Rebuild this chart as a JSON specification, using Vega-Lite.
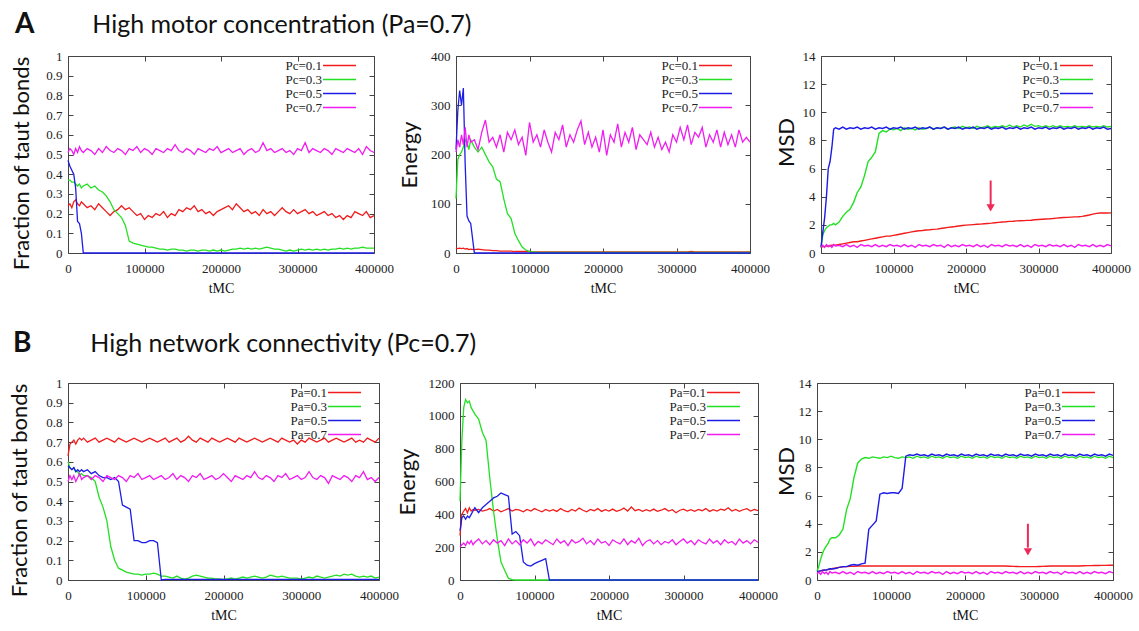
{
"$schema":"https://vega.github.io/schema/vega-lite/v6.json",
"background":"white",
"padding":{"left":8,"top":10,"right":5,"bottom":5},
"config":{
 "view":{"stroke":"#444","strokeWidth":1},
 "axis":{"domain":false,"grid":false,"ticks":true,"tickSize":-5,"tickColor":"#444","labelFont":"Liberation Serif","labelFontSize":13,"labelColor":"#222","labelPadding":11,"labelFlush":false,"titleFont":"Lato","titleFontWeight":"normal","titleColor":"#111"},
 "axisX":{"titleFont":"Liberation Serif","titleFontSize":14,"titlePadding":6,"labelPadding":14},
 "axisY":{"titleFontSize":22},
 "legend":{"orient":"none","symbolType":"M-3,0H3","symbolSize":121,"symbolStrokeWidth":1.5,"labelFont":"Liberation Serif","labelFontSize":13,"labelColor":"#222","labelAlign":"right","labelOffset":-24,"rowPadding":0,"padding":0},
 "title":{"font":"Lato","fontSize":28,"fontWeight":"bold","anchor":"start","color":"#111","frame":"group","offset":11}
},
"datasets":{
"a1":[
{"x":0,"a":0.24,"b":0.37,"c":0.47,"d":0.51},
{"x":2500,"a":0.25,"b":0.37,"c":0.44,"d":0.53},
{"x":5000,"a":0.23,"b":0.36,"c":0.42,"d":0.52},
{"x":7500,"a":0.26,"b":0.36,"c":0.40,"d":0.50},
{"x":10000,"a":0.27,"b":0.35,"c":0.33,"d":0.53},
{"x":12500,"a":0.25,"b":0.34,"c":0.16,"d":0.51},
{"x":15000,"a":0.24,"b":0.35,"c":0.15,"d":0.54},
{"x":17500,"a":0.26,"b":0.33,"c":0.10,"d":0.52},
{"x":20000,"a":0.25,"b":0.34,"c":0,"d":0.51},
{"x":25000,"a":0.23,"b":0.35,"c":0,"d":0.53},
{"x":30000,"a":0.24,"b":0.33,"c":0,"d":0.52},
{"x":35000,"a":0.22,"b":0.34,"c":0,"d":0.50},
{"x":40000,"a":0.25,"b":0.32,"c":0,"d":0.53},
{"x":45000,"a":0.23,"b":0.31,"c":0,"d":0.51},
{"x":50000,"a":0.21,"b":0.29,"c":0,"d":0.54},
{"x":55000,"a":0.19,"b":0.26,"c":0,"d":0.52},
{"x":60000,"a":0.21,"b":0.22,"c":0,"d":0.51},
{"x":65000,"a":0.22,"b":0.20,"c":0,"d":0.53},
{"x":70000,"a":0.24,"b":0.18,"c":0,"d":0.52},
{"x":75000,"a":0.22,"b":0.14,"c":0,"d":0.50},
{"x":80000,"a":0.23,"b":0.06,"c":0,"d":0.53},
{"x":85000,"a":0.21,"b":0.05,"c":0,"d":0.52},
{"x":90000,"a":0.19,"b":0.045,"c":0,"d":0.54},
{"x":95000,"a":0.20,"b":0.04,"c":0,"d":0.51},
{"x":100000,"a":0.17,"b":0.035,"c":0,"d":0.53},
{"x":105000,"a":0.19,"b":0.03,"c":0,"d":0.52},
{"x":110000,"a":0.18,"b":0.03,"c":0,"d":0.50},
{"x":115000,"a":0.20,"b":0.025,"c":0,"d":0.53},
{"x":120000,"a":0.19,"b":0.02,"c":0,"d":0.52},
{"x":125000,"a":0.21,"b":0.02,"c":0,"d":0.51},
{"x":130000,"a":0.18,"b":0.015,"c":0,"d":0.53},
{"x":135000,"a":0.20,"b":0.02,"c":0,"d":0.52},
{"x":140000,"a":0.19,"b":0.02,"c":0,"d":0.55},
{"x":145000,"a":0.22,"b":0.015,"c":0,"d":0.52},
{"x":150000,"a":0.21,"b":0.015,"c":0,"d":0.51},
{"x":155000,"a":0.23,"b":0.01,"c":0,"d":0.53},
{"x":160000,"a":0.22,"b":0.015,"c":0,"d":0.52},
{"x":165000,"a":0.24,"b":0.015,"c":0,"d":0.50},
{"x":170000,"a":0.21,"b":0.01,"c":0,"d":0.53},
{"x":175000,"a":0.22,"b":0.015,"c":0,"d":0.52},
{"x":180000,"a":0.20,"b":0.015,"c":0,"d":0.51},
{"x":185000,"a":0.21,"b":0.01,"c":0,"d":0.53},
{"x":190000,"a":0.19,"b":0.015,"c":0,"d":0.52},
{"x":195000,"a":0.21,"b":0.01,"c":0,"d":0.54},
{"x":200000,"a":0.22,"b":0.015,"c":0,"d":0.51},
{"x":205000,"a":0.23,"b":0.01,"c":0,"d":0.52},
{"x":210000,"a":0.24,"b":0.015,"c":0,"d":0.53},
{"x":215000,"a":0.22,"b":0.02,"c":0,"d":0.51},
{"x":220000,"a":0.25,"b":0.02,"c":0,"d":0.52},
{"x":225000,"a":0.23,"b":0.025,"c":0,"d":0.53},
{"x":230000,"a":0.21,"b":0.02,"c":0,"d":0.50},
{"x":235000,"a":0.22,"b":0.025,"c":0,"d":0.52},
{"x":240000,"a":0.20,"b":0.02,"c":0,"d":0.53},
{"x":245000,"a":0.21,"b":0.025,"c":0,"d":0.51},
{"x":250000,"a":0.19,"b":0.02,"c":0,"d":0.52},
{"x":255000,"a":0.22,"b":0.025,"c":0,"d":0.56},
{"x":260000,"a":0.20,"b":0.03,"c":0,"d":0.52},
{"x":265000,"a":0.21,"b":0.025,"c":0,"d":0.53},
{"x":270000,"a":0.19,"b":0.02,"c":0,"d":0.51},
{"x":275000,"a":0.21,"b":0.02,"c":0,"d":0.52},
{"x":280000,"a":0.23,"b":0.015,"c":0,"d":0.53},
{"x":285000,"a":0.21,"b":0.01,"c":0,"d":0.51},
{"x":290000,"a":0.20,"b":0.015,"c":0,"d":0.52},
{"x":295000,"a":0.22,"b":0.01,"c":0,"d":0.50},
{"x":300000,"a":0.20,"b":0.015,"c":0,"d":0.53},
{"x":305000,"a":0.21,"b":0.02,"c":0,"d":0.52},
{"x":310000,"a":0.22,"b":0.015,"c":0,"d":0.56},
{"x":315000,"a":0.20,"b":0.02,"c":0,"d":0.51},
{"x":320000,"a":0.21,"b":0.015,"c":0,"d":0.53},
{"x":325000,"a":0.19,"b":0.02,"c":0,"d":0.52},
{"x":330000,"a":0.20,"b":0.015,"c":0,"d":0.51},
{"x":335000,"a":0.21,"b":0.02,"c":0,"d":0.53},
{"x":340000,"a":0.19,"b":0.015,"c":0,"d":0.52},
{"x":345000,"a":0.20,"b":0.02,"c":0,"d":0.50},
{"x":350000,"a":0.18,"b":0.02,"c":0,"d":0.53},
{"x":355000,"a":0.19,"b":0.025,"c":0,"d":0.52},
{"x":360000,"a":0.17,"b":0.02,"c":0,"d":0.51},
{"x":365000,"a":0.19,"b":0.025,"c":0,"d":0.53},
{"x":370000,"a":0.18,"b":0.02,"c":0,"d":0.52},
{"x":375000,"a":0.21,"b":0.025,"c":0,"d":0.51},
{"x":380000,"a":0.20,"b":0.025,"c":0,"d":0.53},
{"x":385000,"a":0.19,"b":0.03,"c":0,"d":0.50},
{"x":390000,"a":0.21,"b":0.025,"c":0,"d":0.54},
{"x":395000,"a":0.18,"b":0.025,"c":0,"d":0.52},
{"x":400000,"a":0.19,"b":0.025,"c":0,"d":0.51}
],
"a2":[
{"x":0,"a":10,"b":110,"c":210,"d":205},
{"x":2500,"a":9,"b":190,"c":290,"d":230},
{"x":5000,"a":10,"b":200,"c":330,"d":215},
{"x":7500,"a":9,"b":205,"c":300,"d":240},
{"x":10000,"a":10,"b":215,"c":335,"d":220},
{"x":12500,"a":8,"b":230,"c":180,"d":255},
{"x":15000,"a":9,"b":225,"c":75,"d":215},
{"x":17500,"a":7,"b":210,"c":65,"d":240},
{"x":20000,"a":8,"b":230,"c":60,"d":225},
{"x":25000,"a":7,"b":215,"c":0,"d":230},
{"x":30000,"a":8,"b":205,"c":0,"d":210},
{"x":35000,"a":7,"b":215,"c":0,"d":245},
{"x":40000,"a":6,"b":200,"c":0,"d":270},
{"x":45000,"a":6,"b":185,"c":0,"d":225},
{"x":50000,"a":5,"b":175,"c":0,"d":235},
{"x":55000,"a":5,"b":150,"c":0,"d":215},
{"x":60000,"a":4,"b":145,"c":0,"d":240},
{"x":65000,"a":4,"b":110,"c":0,"d":205},
{"x":70000,"a":4,"b":80,"c":0,"d":245},
{"x":75000,"a":4,"b":70,"c":0,"d":230},
{"x":80000,"a":3,"b":40,"c":0,"d":250},
{"x":85000,"a":3,"b":25,"c":0,"d":220},
{"x":90000,"a":3,"b":12,"c":0,"d":235},
{"x":95000,"a":3,"b":6,"c":0,"d":198},
{"x":100000,"a":3,"b":3,"c":0,"d":265},
{"x":105000,"a":2,"b":2,"c":0,"d":225},
{"x":110000,"a":2,"b":1,"c":0,"d":240},
{"x":115000,"a":2,"b":1,"c":0,"d":215},
{"x":120000,"a":2,"b":1,"c":0,"d":250},
{"x":125000,"a":2,"b":1,"c":0,"d":225},
{"x":130000,"a":2,"b":1,"c":0,"d":205},
{"x":135000,"a":2,"b":1,"c":0,"d":245},
{"x":140000,"a":2,"b":1,"c":0,"d":230},
{"x":145000,"a":2,"b":1,"c":0,"d":260},
{"x":150000,"a":2,"b":1,"c":0,"d":215},
{"x":155000,"a":2,"b":1,"c":0,"d":240},
{"x":160000,"a":2,"b":1,"c":0,"d":225},
{"x":165000,"a":2,"b":1,"c":0,"d":250},
{"x":170000,"a":2,"b":1,"c":0,"d":268},
{"x":175000,"a":2,"b":1,"c":0,"d":220},
{"x":180000,"a":2,"b":1,"c":0,"d":245},
{"x":185000,"a":2,"b":1,"c":0,"d":215},
{"x":190000,"a":2,"b":1,"c":0,"d":235},
{"x":195000,"a":2,"b":1,"c":0,"d":205},
{"x":200000,"a":2,"b":1,"c":0,"d":250},
{"x":205000,"a":2,"b":1,"c":0,"d":198},
{"x":210000,"a":2,"b":1,"c":0,"d":240},
{"x":215000,"a":2,"b":1,"c":0,"d":225},
{"x":220000,"a":2,"b":1,"c":0,"d":262},
{"x":225000,"a":2,"b":1,"c":0,"d":215},
{"x":230000,"a":2,"b":1,"c":0,"d":245},
{"x":235000,"a":2,"b":1,"c":0,"d":225},
{"x":240000,"a":2,"b":1,"c":0,"d":255},
{"x":245000,"a":2,"b":1,"c":0,"d":210},
{"x":250000,"a":2,"b":1,"c":0,"d":240},
{"x":255000,"a":2,"b":1,"c":0,"d":230},
{"x":260000,"a":2,"b":1,"c":0,"d":220},
{"x":265000,"a":2,"b":1,"c":0,"d":245},
{"x":270000,"a":2,"b":1,"c":0,"d":215},
{"x":275000,"a":2,"b":1,"c":0,"d":235},
{"x":280000,"a":2,"b":1,"c":0,"d":210},
{"x":285000,"a":2,"b":1,"c":0,"d":225},
{"x":290000,"a":2,"b":1,"c":0,"d":205},
{"x":295000,"a":2,"b":1,"c":0,"d":240},
{"x":300000,"a":2,"b":1,"c":0,"d":225},
{"x":305000,"a":2,"b":1,"c":0,"d":255},
{"x":310000,"a":2,"b":1,"c":0,"d":230},
{"x":315000,"a":2,"b":1,"c":0,"d":260},
{"x":320000,"a":3,"b":1,"c":0,"d":220},
{"x":325000,"a":2,"b":1,"c":0,"d":245},
{"x":330000,"a":2,"b":1,"c":0,"d":235},
{"x":335000,"a":2,"b":1,"c":0,"d":255},
{"x":340000,"a":2,"b":1,"c":0,"d":215},
{"x":345000,"a":2,"b":1,"c":0,"d":240},
{"x":350000,"a":2,"b":1,"c":0,"d":225},
{"x":355000,"a":2,"b":1,"c":0,"d":250},
{"x":360000,"a":2,"b":1,"c":0,"d":215},
{"x":365000,"a":2,"b":1,"c":0,"d":245},
{"x":370000,"a":2,"b":1,"c":0,"d":220},
{"x":375000,"a":2,"b":1,"c":0,"d":240},
{"x":380000,"a":2,"b":1,"c":0,"d":215},
{"x":385000,"a":2,"b":1,"c":0,"d":250},
{"x":390000,"a":2,"b":1,"c":0,"d":225},
{"x":395000,"a":2,"b":1,"c":0,"d":235},
{"x":400000,"a":2,"b":1,"c":0,"d":225}
],
"a3":[
{"x":0,"a":0.4,"b":0.4,"c":0.4,"d":0.45},
{"x":2500,"a":0.45,"b":1.3,"c":1.5,"d":0.55},
{"x":5000,"a":0.45,"b":1.6,"c":2.5,"d":0.4},
{"x":7500,"a":0.5,"b":1.8,"c":4.0,"d":0.6},
{"x":10000,"a":0.5,"b":1.9,"c":6.0,"d":0.45},
{"x":12500,"a":0.5,"b":2.0,"c":6.5,"d":0.55},
{"x":15000,"a":0.55,"b":2.0,"c":7.5,"d":0.4},
{"x":17500,"a":0.55,"b":2.1,"c":8.8,"d":0.6},
{"x":20000,"a":0.55,"b":2.0,"c":8.9,"d":0.5},
{"x":25000,"a":0.6,"b":2.2,"c":8.8,"d":0.55},
{"x":30000,"a":0.65,"b":2.6,"c":8.95,"d":0.45},
{"x":35000,"a":0.7,"b":2.9,"c":8.8,"d":0.6},
{"x":40000,"a":0.75,"b":3.1,"c":8.9,"d":0.45},
{"x":45000,"a":0.8,"b":3.6,"c":8.85,"d":0.55},
{"x":50000,"a":0.8,"b":4.3,"c":8.95,"d":0.4},
{"x":55000,"a":0.85,"b":4.7,"c":8.8,"d":0.6},
{"x":60000,"a":0.9,"b":5.5,"c":8.9,"d":0.5},
{"x":65000,"a":0.95,"b":6.5,"c":8.85,"d":0.55},
{"x":70000,"a":1.0,"b":6.8,"c":8.95,"d":0.45},
{"x":75000,"a":1.05,"b":7.2,"c":8.8,"d":0.6},
{"x":80000,"a":1.1,"b":8.5,"c":8.9,"d":0.45},
{"x":85000,"a":1.15,"b":8.7,"c":8.85,"d":0.55},
{"x":90000,"a":1.2,"b":8.6,"c":8.95,"d":0.45},
{"x":95000,"a":1.2,"b":8.8,"c":8.8,"d":0.6},
{"x":100000,"a":1.25,"b":8.75,"c":8.9,"d":0.5},
{"x":105000,"a":1.3,"b":8.85,"c":8.85,"d":0.55},
{"x":110000,"a":1.35,"b":8.7,"c":8.95,"d":0.45},
{"x":115000,"a":1.4,"b":8.9,"c":8.8,"d":0.6},
{"x":120000,"a":1.45,"b":8.8,"c":8.9,"d":0.45},
{"x":125000,"a":1.5,"b":8.85,"c":8.85,"d":0.55},
{"x":130000,"a":1.55,"b":8.75,"c":8.95,"d":0.4},
{"x":135000,"a":1.58,"b":8.9,"c":8.8,"d":0.6},
{"x":140000,"a":1.6,"b":8.8,"c":8.9,"d":0.5},
{"x":145000,"a":1.63,"b":8.85,"c":8.85,"d":0.55},
{"x":150000,"a":1.65,"b":8.95,"c":8.95,"d":0.45},
{"x":155000,"a":1.68,"b":8.8,"c":8.8,"d":0.6},
{"x":160000,"a":1.7,"b":8.9,"c":8.9,"d":0.5},
{"x":165000,"a":1.74,"b":8.85,"c":8.85,"d":0.55},
{"x":170000,"a":1.78,"b":8.95,"c":8.95,"d":0.4},
{"x":175000,"a":1.82,"b":8.8,"c":8.8,"d":0.6},
{"x":180000,"a":1.85,"b":8.9,"c":8.9,"d":0.45},
{"x":185000,"a":1.88,"b":8.95,"c":8.85,"d":0.55},
{"x":190000,"a":1.92,"b":8.85,"c":8.95,"d":0.45},
{"x":195000,"a":1.95,"b":9.0,"c":8.8,"d":0.6},
{"x":200000,"a":1.98,"b":8.9,"c":8.9,"d":0.5},
{"x":205000,"a":2.0,"b":8.95,"c":8.85,"d":0.55},
{"x":210000,"a":2.02,"b":8.85,"c":8.95,"d":0.45},
{"x":215000,"a":2.04,"b":9.0,"c":8.8,"d":0.6},
{"x":220000,"a":2.05,"b":8.9,"c":8.9,"d":0.45},
{"x":225000,"a":2.08,"b":8.95,"c":8.85,"d":0.55},
{"x":230000,"a":2.1,"b":9.05,"c":8.95,"d":0.4},
{"x":235000,"a":2.12,"b":8.9,"c":8.8,"d":0.6},
{"x":240000,"a":2.15,"b":9.0,"c":8.9,"d":0.5},
{"x":245000,"a":2.18,"b":8.95,"c":8.85,"d":0.55},
{"x":250000,"a":2.2,"b":9.05,"c":8.95,"d":0.45},
{"x":255000,"a":2.22,"b":8.95,"c":8.8,"d":0.6},
{"x":260000,"a":2.25,"b":9.1,"c":8.9,"d":0.5},
{"x":265000,"a":2.26,"b":8.95,"c":8.85,"d":0.55},
{"x":270000,"a":2.28,"b":9.05,"c":8.95,"d":0.45},
{"x":275000,"a":2.29,"b":8.95,"c":8.8,"d":0.6},
{"x":280000,"a":2.3,"b":9.1,"c":8.9,"d":0.45},
{"x":285000,"a":2.32,"b":9.0,"c":8.85,"d":0.55},
{"x":290000,"a":2.33,"b":9.15,"c":8.95,"d":0.4},
{"x":295000,"a":2.36,"b":9.0,"c":8.8,"d":0.6},
{"x":300000,"a":2.38,"b":9.05,"c":8.9,"d":0.5},
{"x":305000,"a":2.4,"b":8.95,"c":8.85,"d":0.55},
{"x":310000,"a":2.42,"b":9.05,"c":8.95,"d":0.45},
{"x":315000,"a":2.43,"b":8.95,"c":8.8,"d":0.6},
{"x":320000,"a":2.45,"b":9.05,"c":8.9,"d":0.5},
{"x":325000,"a":2.48,"b":8.95,"c":8.85,"d":0.55},
{"x":330000,"a":2.5,"b":9.05,"c":8.95,"d":0.45},
{"x":335000,"a":2.52,"b":8.95,"c":8.8,"d":0.6},
{"x":340000,"a":2.53,"b":9.0,"c":8.9,"d":0.45},
{"x":345000,"a":2.55,"b":8.95,"c":8.85,"d":0.55},
{"x":350000,"a":2.57,"b":9.05,"c":8.95,"d":0.4},
{"x":355000,"a":2.58,"b":8.95,"c":8.8,"d":0.6},
{"x":360000,"a":2.6,"b":9.0,"c":8.9,"d":0.5},
{"x":365000,"a":2.65,"b":8.95,"c":8.85,"d":0.55},
{"x":370000,"a":2.7,"b":9.05,"c":8.95,"d":0.45},
{"x":375000,"a":2.76,"b":8.95,"c":8.8,"d":0.6},
{"x":380000,"a":2.82,"b":9.0,"c":8.9,"d":0.45},
{"x":385000,"a":2.84,"b":8.95,"c":8.85,"d":0.55},
{"x":390000,"a":2.85,"b":9.05,"c":8.95,"d":0.45},
{"x":395000,"a":2.84,"b":8.95,"c":8.8,"d":0.6},
{"x":400000,"a":2.85,"b":9.0,"c":8.85,"d":0.5}
],
"b1":[
{"x":0,"a":0.63,"b":0.6,"c":0.58,"d":0.5},
{"x":2500,"a":0.69,"b":0.57,"c":0.57,"d":0.53},
{"x":5000,"a":0.7,"b":0.56,"c":0.56,"d":0.51},
{"x":7500,"a":0.71,"b":0.57,"c":0.57,"d":0.53},
{"x":10000,"a":0.69,"b":0.55,"c":0.55,"d":0.5},
{"x":12500,"a":0.71,"b":0.55,"c":0.56,"d":0.52},
{"x":15000,"a":0.72,"b":0.53,"c":0.55,"d":0.54},
{"x":17500,"a":0.71,"b":0.54,"c":0.56,"d":0.51},
{"x":20000,"a":0.72,"b":0.53,"c":0.55,"d":0.52},
{"x":25000,"a":0.70,"b":0.53,"c":0.56,"d":0.53},
{"x":30000,"a":0.71,"b":0.52,"c":0.54,"d":0.51},
{"x":35000,"a":0.72,"b":0.50,"c":0.55,"d":0.53},
{"x":40000,"a":0.70,"b":0.42,"c":0.53,"d":0.52},
{"x":45000,"a":0.71,"b":0.37,"c":0.52,"d":0.50},
{"x":50000,"a":0.72,"b":0.30,"c":0.52,"d":0.53},
{"x":55000,"a":0.71,"b":0.17,"c":0.51,"d":0.52},
{"x":60000,"a":0.70,"b":0.10,"c":0.52,"d":0.51},
{"x":65000,"a":0.72,"b":0.06,"c":0.50,"d":0.53},
{"x":70000,"a":0.71,"b":0.05,"c":0.38,"d":0.52},
{"x":75000,"a":0.70,"b":0.04,"c":0.37,"d":0.50},
{"x":80000,"a":0.71,"b":0.035,"c":0.36,"d":0.53},
{"x":85000,"a":0.72,"b":0.03,"c":0.20,"d":0.52},
{"x":90000,"a":0.71,"b":0.03,"c":0.20,"d":0.54},
{"x":95000,"a":0.70,"b":0.025,"c":0.19,"d":0.51},
{"x":100000,"a":0.71,"b":0.03,"c":0.19,"d":0.52},
{"x":105000,"a":0.72,"b":0.03,"c":0.20,"d":0.53},
{"x":110000,"a":0.71,"b":0.035,"c":0.20,"d":0.51},
{"x":115000,"a":0.70,"b":0.03,"c":0.19,"d":0.52},
{"x":120000,"a":0.71,"b":0.02,"c":0.0,"d":0.53},
{"x":125000,"a":0.72,"b":0.02,"c":0.003,"d":0.51},
{"x":130000,"a":0.70,"b":0.015,"c":0.003,"d":0.52},
{"x":135000,"a":0.71,"b":0.01,"c":0.003,"d":0.54},
{"x":140000,"a":0.72,"b":0.02,"c":0.003,"d":0.51},
{"x":145000,"a":0.70,"b":0.01,"c":0.003,"d":0.53},
{"x":150000,"a":0.71,"b":0.005,"c":0.003,"d":0.52},
{"x":155000,"a":0.73,"b":0.01,"c":0.003,"d":0.50},
{"x":160000,"a":0.71,"b":0.02,"c":0.003,"d":0.53},
{"x":165000,"a":0.70,"b":0.025,"c":0.003,"d":0.52},
{"x":170000,"a":0.72,"b":0.02,"c":0.003,"d":0.54},
{"x":175000,"a":0.71,"b":0.015,"c":0.003,"d":0.51},
{"x":180000,"a":0.70,"b":0.01,"c":0.003,"d":0.52},
{"x":185000,"a":0.72,"b":0.01,"c":0.003,"d":0.53},
{"x":190000,"a":0.71,"b":0.005,"c":0.003,"d":0.51},
{"x":195000,"a":0.70,"b":0.005,"c":0.003,"d":0.52},
{"x":200000,"a":0.71,"b":0.003,"c":0.003,"d":0.54},
{"x":205000,"a":0.72,"b":0.005,"c":0.003,"d":0.52},
{"x":210000,"a":0.71,"b":0.01,"c":0.003,"d":0.50},
{"x":215000,"a":0.70,"b":0.005,"c":0.003,"d":0.53},
{"x":220000,"a":0.72,"b":0.01,"c":0.003,"d":0.52},
{"x":225000,"a":0.71,"b":0.015,"c":0.003,"d":0.51},
{"x":230000,"a":0.70,"b":0.01,"c":0.003,"d":0.53},
{"x":235000,"a":0.71,"b":0.015,"c":0.003,"d":0.52},
{"x":240000,"a":0.72,"b":0.02,"c":0.003,"d":0.55},
{"x":245000,"a":0.71,"b":0.015,"c":0.003,"d":0.52},
{"x":250000,"a":0.70,"b":0.01,"c":0.003,"d":0.51},
{"x":255000,"a":0.71,"b":0.015,"c":0.003,"d":0.53},
{"x":260000,"a":0.72,"b":0.025,"c":0.003,"d":0.52},
{"x":265000,"a":0.71,"b":0.02,"c":0.003,"d":0.50},
{"x":270000,"a":0.70,"b":0.015,"c":0.003,"d":0.53},
{"x":275000,"a":0.72,"b":0.02,"c":0.003,"d":0.52},
{"x":280000,"a":0.71,"b":0.015,"c":0.003,"d":0.54},
{"x":285000,"a":0.70,"b":0.01,"c":0.003,"d":0.51},
{"x":290000,"a":0.71,"b":0.01,"c":0.003,"d":0.52},
{"x":295000,"a":0.69,"b":0.01,"c":0.003,"d":0.53},
{"x":300000,"a":0.71,"b":0.005,"c":0.003,"d":0.51},
{"x":305000,"a":0.70,"b":0.01,"c":0.003,"d":0.52},
{"x":310000,"a":0.72,"b":0.015,"c":0.003,"d":0.55},
{"x":315000,"a":0.71,"b":0.01,"c":0.003,"d":0.52},
{"x":320000,"a":0.70,"b":0.02,"c":0.003,"d":0.51},
{"x":325000,"a":0.71,"b":0.015,"c":0.003,"d":0.53},
{"x":330000,"a":0.72,"b":0.01,"c":0.003,"d":0.52},
{"x":335000,"a":0.70,"b":0.015,"c":0.003,"d":0.49},
{"x":340000,"a":0.71,"b":0.02,"c":0.003,"d":0.53},
{"x":345000,"a":0.72,"b":0.025,"c":0.003,"d":0.52},
{"x":350000,"a":0.71,"b":0.02,"c":0.003,"d":0.51},
{"x":355000,"a":0.70,"b":0.03,"c":0.003,"d":0.53},
{"x":360000,"a":0.71,"b":0.025,"c":0.003,"d":0.52},
{"x":365000,"a":0.72,"b":0.03,"c":0.003,"d":0.50},
{"x":370000,"a":0.70,"b":0.02,"c":0.003,"d":0.53},
{"x":375000,"a":0.71,"b":0.015,"c":0.003,"d":0.52},
{"x":380000,"a":0.70,"b":0.02,"c":0.003,"d":0.55},
{"x":385000,"a":0.72,"b":0.015,"c":0.003,"d":0.51},
{"x":390000,"a":0.71,"b":0.02,"c":0.003,"d":0.52},
{"x":395000,"a":0.70,"b":0.01,"c":0.003,"d":0.50},
{"x":400000,"a":0.72,"b":0.015,"c":0.003,"d":0.52}
],
"b2":[
{"x":0,"a":270,"b":480,"c":300,"d":200},
{"x":2500,"a":400,"b":850,"c":380,"d":215},
{"x":5000,"a":420,"b":1050,"c":390,"d":225},
{"x":7500,"a":435,"b":1100,"c":370,"d":210},
{"x":10000,"a":410,"b":1080,"c":390,"d":235},
{"x":12500,"a":440,"b":1090,"c":380,"d":220},
{"x":15000,"a":420,"b":1050,"c":400,"d":240},
{"x":17500,"a":430,"b":1030,"c":420,"d":215},
{"x":20000,"a":425,"b":1010,"c":440,"d":230},
{"x":25000,"a":430,"b":980,"c":410,"d":250},
{"x":30000,"a":420,"b":900,"c":440,"d":220},
{"x":35000,"a":425,"b":850,"c":460,"d":240},
{"x":40000,"a":435,"b":620,"c":480,"d":215},
{"x":45000,"a":420,"b":420,"c":500,"d":245},
{"x":50000,"a":430,"b":250,"c":510,"d":225},
{"x":55000,"a":415,"b":110,"c":530,"d":240},
{"x":60000,"a":425,"b":60,"c":520,"d":210},
{"x":65000,"a":435,"b":10,"c":510,"d":250},
{"x":70000,"a":420,"b":2,"c":280,"d":220},
{"x":75000,"a":430,"b":0,"c":295,"d":240},
{"x":80000,"a":425,"b":0,"c":270,"d":215},
{"x":85000,"a":415,"b":0,"c":110,"d":245},
{"x":90000,"a":430,"b":0,"c":90,"d":225},
{"x":95000,"a":420,"b":0,"c":85,"d":250},
{"x":100000,"a":435,"b":0,"c":100,"d":210},
{"x":105000,"a":425,"b":0,"c":110,"d":235},
{"x":110000,"a":415,"b":0,"c":120,"d":220},
{"x":115000,"a":430,"b":0,"c":130,"d":245},
{"x":120000,"a":420,"b":0,"c":0,"d":230},
{"x":125000,"a":428,"b":0,"c":0,"d":215},
{"x":130000,"a":418,"b":0,"c":0,"d":250},
{"x":135000,"a":435,"b":0,"c":0,"d":225},
{"x":140000,"a":422,"b":0,"c":0,"d":240},
{"x":145000,"a":415,"b":0,"c":0,"d":210},
{"x":150000,"a":430,"b":0,"c":0,"d":245},
{"x":155000,"a":420,"b":0,"c":0,"d":225},
{"x":160000,"a":438,"b":0,"c":0,"d":235},
{"x":165000,"a":425,"b":0,"c":0,"d":255},
{"x":170000,"a":415,"b":0,"c":0,"d":220},
{"x":175000,"a":430,"b":0,"c":0,"d":240},
{"x":180000,"a":422,"b":0,"c":0,"d":215},
{"x":185000,"a":435,"b":0,"c":0,"d":250},
{"x":190000,"a":418,"b":0,"c":0,"d":225},
{"x":195000,"a":428,"b":0,"c":0,"d":235},
{"x":200000,"a":420,"b":0,"c":0,"d":210},
{"x":205000,"a":432,"b":0,"c":0,"d":245},
{"x":210000,"a":418,"b":0,"c":0,"d":230},
{"x":215000,"a":425,"b":0,"c":0,"d":220},
{"x":220000,"a":438,"b":0,"c":0,"d":250},
{"x":225000,"a":420,"b":0,"c":0,"d":215},
{"x":230000,"a":445,"b":0,"c":0,"d":240},
{"x":235000,"a":422,"b":0,"c":0,"d":225},
{"x":240000,"a":430,"b":0,"c":0,"d":255},
{"x":245000,"a":418,"b":0,"c":0,"d":210},
{"x":250000,"a":428,"b":0,"c":0,"d":235},
{"x":255000,"a":420,"b":0,"c":0,"d":245},
{"x":260000,"a":432,"b":0,"c":0,"d":220},
{"x":265000,"a":418,"b":0,"c":0,"d":240},
{"x":270000,"a":425,"b":0,"c":0,"d":215},
{"x":275000,"a":435,"b":0,"c":0,"d":235},
{"x":280000,"a":420,"b":0,"c":0,"d":225},
{"x":285000,"a":428,"b":0,"c":0,"d":245},
{"x":290000,"a":410,"b":0,"c":0,"d":215},
{"x":295000,"a":425,"b":0,"c":0,"d":235},
{"x":300000,"a":432,"b":0,"c":0,"d":250},
{"x":305000,"a":420,"b":0,"c":0,"d":225},
{"x":310000,"a":428,"b":0,"c":0,"d":240},
{"x":315000,"a":418,"b":0,"c":0,"d":215},
{"x":320000,"a":430,"b":0,"c":0,"d":245},
{"x":325000,"a":422,"b":0,"c":0,"d":230},
{"x":330000,"a":435,"b":0,"c":0,"d":220},
{"x":335000,"a":418,"b":0,"c":0,"d":250},
{"x":340000,"a":428,"b":0,"c":0,"d":225},
{"x":345000,"a":420,"b":0,"c":0,"d":240},
{"x":350000,"a":432,"b":0,"c":0,"d":215},
{"x":355000,"a":425,"b":0,"c":0,"d":245},
{"x":360000,"a":440,"b":0,"c":0,"d":225},
{"x":365000,"a":420,"b":0,"c":0,"d":235},
{"x":370000,"a":430,"b":0,"c":0,"d":215},
{"x":375000,"a":418,"b":0,"c":0,"d":250},
{"x":380000,"a":428,"b":0,"c":0,"d":225},
{"x":385000,"a":435,"b":0,"c":0,"d":240},
{"x":390000,"a":420,"b":0,"c":0,"d":220},
{"x":395000,"a":430,"b":0,"c":0,"d":245},
{"x":400000,"a":422,"b":0,"c":0,"d":230}
],
"b3":[
{"x":0,"a":0.6,"b":0.6,"c":0.6,"d":0.45},
{"x":2500,"a":0.62,"b":1.0,"c":0.62,"d":0.55},
{"x":5000,"a":0.65,"b":1.5,"c":0.65,"d":0.4},
{"x":7500,"a":0.68,"b":1.9,"c":0.7,"d":0.6},
{"x":10000,"a":0.7,"b":2.2,"c":0.72,"d":0.45},
{"x":12500,"a":0.72,"b":2.4,"c":0.7,"d":0.55},
{"x":15000,"a":0.75,"b":2.6,"c":0.75,"d":0.4},
{"x":17500,"a":0.78,"b":2.9,"c":0.8,"d":0.6},
{"x":20000,"a":0.8,"b":3.0,"c":0.78,"d":0.5},
{"x":25000,"a":0.85,"b":3.0,"c":0.82,"d":0.55},
{"x":30000,"a":0.9,"b":3.2,"c":0.9,"d":0.45},
{"x":35000,"a":0.93,"b":3.6,"c":0.95,"d":0.6},
{"x":40000,"a":0.95,"b":5.0,"c":0.95,"d":0.45},
{"x":45000,"a":0.97,"b":5.8,"c":1.05,"d":0.55},
{"x":50000,"a":0.98,"b":7.3,"c":1.1,"d":0.4},
{"x":55000,"a":1.0,"b":8.3,"c":1.05,"d":0.6},
{"x":60000,"a":1.0,"b":8.6,"c":1.15,"d":0.5},
{"x":65000,"a":1.0,"b":8.7,"c":1.2,"d":0.55},
{"x":70000,"a":1.0,"b":8.65,"c":3.6,"d":0.45},
{"x":75000,"a":1.0,"b":8.75,"c":3.9,"d":0.6},
{"x":80000,"a":1.0,"b":8.7,"c":4.2,"d":0.45},
{"x":85000,"a":1.0,"b":8.65,"c":6.1,"d":0.55},
{"x":90000,"a":1.0,"b":8.75,"c":6.2,"d":0.45},
{"x":95000,"a":1.0,"b":8.7,"c":6.15,"d":0.6},
{"x":100000,"a":1.0,"b":8.8,"c":6.2,"d":0.5},
{"x":105000,"a":1.0,"b":8.7,"c":6.2,"d":0.55},
{"x":110000,"a":1.0,"b":8.65,"c":6.15,"d":0.45},
{"x":115000,"a":1.0,"b":8.75,"c":6.5,"d":0.6},
{"x":120000,"a":1.0,"b":8.7,"c":8.8,"d":0.45},
{"x":125000,"a":1.0,"b":8.75,"c":8.9,"d":0.55},
{"x":130000,"a":1.0,"b":8.65,"c":8.85,"d":0.4},
{"x":135000,"a":1.0,"b":8.8,"c":8.95,"d":0.6},
{"x":140000,"a":1.0,"b":8.7,"c":8.85,"d":0.5},
{"x":145000,"a":1.0,"b":8.75,"c":8.9,"d":0.55},
{"x":150000,"a":1.0,"b":8.65,"c":8.8,"d":0.45},
{"x":155000,"a":1.0,"b":8.8,"c":8.95,"d":0.6},
{"x":160000,"a":1.0,"b":8.7,"c":8.85,"d":0.5},
{"x":165000,"a":1.0,"b":8.75,"c":8.9,"d":0.55},
{"x":170000,"a":1.0,"b":8.65,"c":8.8,"d":0.4},
{"x":175000,"a":1.0,"b":8.8,"c":8.95,"d":0.6},
{"x":180000,"a":1.0,"b":8.7,"c":8.85,"d":0.45},
{"x":185000,"a":1.0,"b":8.75,"c":8.9,"d":0.55},
{"x":190000,"a":1.0,"b":8.65,"c":8.8,"d":0.45},
{"x":195000,"a":1.0,"b":8.8,"c":8.95,"d":0.6},
{"x":200000,"a":1.0,"b":8.7,"c":8.85,"d":0.5},
{"x":205000,"a":1.0,"b":8.75,"c":8.9,"d":0.55},
{"x":210000,"a":1.0,"b":8.65,"c":8.8,"d":0.45},
{"x":215000,"a":1.0,"b":8.8,"c":8.95,"d":0.6},
{"x":220000,"a":1.0,"b":8.7,"c":8.85,"d":0.45},
{"x":225000,"a":1.0,"b":8.75,"c":8.9,"d":0.55},
{"x":230000,"a":1.0,"b":8.65,"c":8.8,"d":0.4},
{"x":235000,"a":1.0,"b":8.8,"c":8.95,"d":0.6},
{"x":240000,"a":1.0,"b":8.7,"c":8.85,"d":0.5},
{"x":245000,"a":1.0,"b":8.75,"c":8.9,"d":0.55},
{"x":250000,"a":1.0,"b":8.65,"c":8.8,"d":0.45},
{"x":255000,"a":0.99,"b":8.8,"c":8.95,"d":0.6},
{"x":260000,"a":0.98,"b":8.7,"c":8.85,"d":0.5},
{"x":265000,"a":0.97,"b":8.75,"c":8.9,"d":0.55},
{"x":270000,"a":0.96,"b":8.65,"c":8.8,"d":0.45},
{"x":275000,"a":0.95,"b":8.8,"c":8.95,"d":0.6},
{"x":280000,"a":0.95,"b":8.7,"c":8.85,"d":0.45},
{"x":285000,"a":0.95,"b":8.75,"c":8.9,"d":0.55},
{"x":290000,"a":0.95,"b":8.65,"c":8.8,"d":0.45},
{"x":295000,"a":0.95,"b":8.8,"c":8.95,"d":0.6},
{"x":300000,"a":0.96,"b":8.7,"c":8.85,"d":0.5},
{"x":305000,"a":0.97,"b":8.75,"c":8.9,"d":0.55},
{"x":310000,"a":0.98,"b":8.65,"c":8.8,"d":0.45},
{"x":315000,"a":0.99,"b":8.8,"c":8.95,"d":0.6},
{"x":320000,"a":1.0,"b":8.7,"c":8.85,"d":0.5},
{"x":325000,"a":1.0,"b":8.75,"c":8.9,"d":0.55},
{"x":330000,"a":1.0,"b":8.65,"c":8.8,"d":0.4},
{"x":335000,"a":1.0,"b":8.8,"c":8.95,"d":0.6},
{"x":340000,"a":1.0,"b":8.7,"c":8.85,"d":0.5},
{"x":345000,"a":1.0,"b":8.75,"c":8.9,"d":0.55},
{"x":350000,"a":1.0,"b":8.65,"c":8.8,"d":0.45},
{"x":355000,"a":1.0,"b":8.8,"c":8.95,"d":0.6},
{"x":360000,"a":1.01,"b":8.7,"c":8.85,"d":0.45},
{"x":365000,"a":1.02,"b":8.75,"c":8.9,"d":0.55},
{"x":370000,"a":1.02,"b":8.65,"c":8.8,"d":0.45},
{"x":375000,"a":1.03,"b":8.8,"c":8.95,"d":0.6},
{"x":380000,"a":1.03,"b":8.7,"c":8.85,"d":0.5},
{"x":385000,"a":1.04,"b":8.75,"c":8.9,"d":0.55},
{"x":390000,"a":1.04,"b":8.65,"c":8.8,"d":0.45},
{"x":395000,"a":1.05,"b":8.8,"c":8.95,"d":0.6},
{"x":400000,"a":1.05,"b":8.7,"c":8.85,"d":0.5}
]
},
"vconcat":[
{
 "title":{"text":"High motor concentration (Pa=0.7)","fontSize":25,"fontWeight":"normal","frame":"bounds","dx":82,"dy":27,"offset":0},
 "spacing":4,
 "resolve":{"scale":{"color":"independent"},"legend":{"color":"independent"}},
 "hconcat":[
  {"width":306,"height":197,"title":{"text":"A","dx":-53},"data":{"name":"a1"},
   "layer":[
    {"transform":[{"fold":["a","b","c","d"],"as":["s","y"]}],"mark":{"type":"line","strokeWidth":1.3},
     "encoding":{
      "x":{"field":"x","type":"quantitative","scale":{"domain":[0,400000],"nice":false},"axis":{"values":[0,100000,200000,300000,400000],"format":"d","title":"tMC"}},
      "y":{"field":"y","type":"quantitative","scale":{"domain":[0,1],"nice":false},"axis":{"values":[0,0.1,0.2,0.3,0.4,0.5,0.6,0.7,0.8,0.9,1],"format":"~g","title":"Fraction of taut bonds","titlePadding":12,"titleY":107}},
      "color":{"field":"s","type":"nominal","scale":{"domain":["a","b","c","d"],"range":["#f21c1c","#22e022","#1c1ce6","#f01cf0"]},"legend":{"title":null,"legendX":265,"legendY":3,"labelExpr":"datum.label=='a'?'Pc=0.1':datum.label=='b'?'Pc=0.3':datum.label=='c'?'Pc=0.5':'Pc=0.7'"}}}},
    {"transform":[{"fold":["a","b","c","d"],"as":["s","y"]}],"mark":{"type":"point","opacity":0},
     "encoding":{
      "x":{"field":"x","type":"quantitative","scale":{"domain":[0,400000],"nice":false},"axis":{"orient":"top","labels":false,"title":null,"values":[0,100000,200000,300000,400000]}},
      "y":{"field":"y","type":"quantitative","scale":{"domain":[0,1],"nice":false},"axis":{"orient":"right","labels":false,"title":null,"values":[0,0.1,0.2,0.3,0.4,0.5,0.6,0.7,0.8,0.9,1]}}}}
   ],
   "resolve":{"axis":{"x":"independent","y":"independent"}}},
  {"width":294,"height":197,"title":{"text":" "},"data":{"name":"a2"},
   "layer":[
    {"transform":[{"fold":["a","b","c","d"],"as":["s","y"]}],"mark":{"type":"line","strokeWidth":1.3},
     "encoding":{
      "x":{"field":"x","type":"quantitative","scale":{"domain":[0,400000],"nice":false},"axis":{"values":[0,100000,200000,300000,400000],"format":"d","title":"tMC"}},
      "y":{"field":"y","type":"quantitative","scale":{"domain":[0,400],"nice":false},"axis":{"values":[0,100,200,300,400],"format":"d","title":"Energy","titlePadding":9}},
      "color":{"field":"s","type":"nominal","scale":{"domain":["a","b","c","d"],"range":["#f21c1c","#22e022","#1c1ce6","#f01cf0"]},"legend":{"title":null,"legendX":253,"legendY":3,"labelExpr":"datum.label=='a'?'Pc=0.1':datum.label=='b'?'Pc=0.3':datum.label=='c'?'Pc=0.5':'Pc=0.7'"}}}},
    {"transform":[{"fold":["a","b","c","d"],"as":["s","y"]}],"mark":{"type":"point","opacity":0},
     "encoding":{
      "x":{"field":"x","type":"quantitative","scale":{"domain":[0,400000],"nice":false},"axis":{"orient":"top","labels":false,"title":null,"values":[0,100000,200000,300000,400000]}},
      "y":{"field":"y","type":"quantitative","scale":{"domain":[0,400],"nice":false},"axis":{"orient":"right","labels":false,"title":null,"values":[0,100,200,300,400]}}}}
   ],
   "resolve":{"axis":{"x":"independent","y":"independent"}}},
  {"width":290,"height":197,"title":{"text":" "},"data":{"name":"a3"},
   "layer":[
    {"transform":[{"fold":["a","b","c","d"],"as":["s","y"]}],"mark":{"type":"line","strokeWidth":1.4},
     "encoding":{
      "x":{"field":"x","type":"quantitative","scale":{"domain":[0,400000],"nice":false},"axis":{"values":[0,100000,200000,300000,400000],"format":"d","title":"tMC"}},
      "y":{"field":"y","type":"quantitative","scale":{"domain":[0,14],"nice":false},"axis":{"values":[0,2,4,6,8,10,12,14],"format":"d","title":"MSD","titlePadding":4,"titleY":86}},
      "color":{"field":"s","type":"nominal","scale":{"domain":["a","b","c","d"],"range":["#f21c1c","#22e022","#1c1ce6","#f01cf0"]},"legend":{"title":null,"legendX":249,"legendY":3,"labelExpr":"datum.label=='a'?'Pc=0.1':datum.label=='b'?'Pc=0.3':datum.label=='c'?'Pc=0.5':'Pc=0.7'"}}}},
    {"transform":[{"fold":["a","b","c","d"],"as":["s","y"]}],"mark":{"type":"point","opacity":0},
     "encoding":{
      "x":{"field":"x","type":"quantitative","scale":{"domain":[0,400000],"nice":false},"axis":{"orient":"top","labels":false,"title":null,"values":[0,100000,200000,300000,400000]}},
      "y":{"field":"y","type":"quantitative","scale":{"domain":[0,14],"nice":false},"axis":{"orient":"right","labels":false,"title":null,"values":[0,2,4,6,8,10,12,14]}}}},
    {"data":{"values":[{"x":234000,"y1":5.15,"y2":3.4}]},"mark":{"type":"rule","color":"#ee2a5a","strokeWidth":2},
     "encoding":{"x":{"field":"x","type":"quantitative","axis":null},"y":{"field":"y1","type":"quantitative","axis":null},"y2":{"field":"y2"}}},
    {"data":{"values":[{"x":234000,"y":3.2}]},"mark":{"type":"point","shape":"triangle-down","filled":true,"color":"#ee2a5a","opacity":1,"size":70},
     "encoding":{"x":{"field":"x","type":"quantitative","axis":null},"y":{"field":"y","type":"quantitative","axis":null}}}
   ],
   "resolve":{"axis":{"x":"independent","y":"independent"}}}
 ]
},
{
 "title":{"text":"High network connectivity (Pc=0.7)","fontSize":25,"fontWeight":"normal","frame":"bounds","dx":82,"dy":27,"offset":0},
 "spacing":-4,
 "resolve":{"scale":{"color":"independent"},"legend":{"color":"independent"}},
 "hconcat":[
  {"width":311,"height":197,"title":{"text":"B","dx":-55,"offset":19},"data":{"name":"b1"},
   "layer":[
    {"transform":[{"fold":["a","b","c","d"],"as":["s","y"]}],"mark":{"type":"line","strokeWidth":1.3},
     "encoding":{
      "x":{"field":"x","type":"quantitative","scale":{"domain":[0,400000],"nice":false},"axis":{"values":[0,100000,200000,300000,400000],"format":"d","title":"tMC"}},
      "y":{"field":"y","type":"quantitative","scale":{"domain":[0,1],"nice":false},"axis":{"values":[0,0.1,0.2,0.3,0.4,0.5,0.6,0.7,0.8,0.9,1],"format":"~g","title":"Fraction of taut bonds","titlePadding":14,"titleY":107}},
      "color":{"field":"s","type":"nominal","scale":{"domain":["a","b","c","d"],"range":["#f21c1c","#22e022","#1c1ce6","#f01cf0"]},"legend":{"title":null,"legendX":270,"legendY":3,"labelExpr":"datum.label=='a'?'Pa=0.1':datum.label=='b'?'Pa=0.3':datum.label=='c'?'Pa=0.5':'Pa=0.7'"}}}},
    {"transform":[{"fold":["a","b","c","d"],"as":["s","y"]}],"mark":{"type":"point","opacity":0},
     "encoding":{
      "x":{"field":"x","type":"quantitative","scale":{"domain":[0,400000],"nice":false},"axis":{"orient":"top","labels":false,"title":null,"values":[0,100000,200000,300000,400000]}},
      "y":{"field":"y","type":"quantitative","scale":{"domain":[0,1],"nice":false},"axis":{"orient":"right","labels":false,"title":null,"values":[0,0.1,0.2,0.3,0.4,0.5,0.6,0.7,0.8,0.9,1]}}}}
   ],
   "resolve":{"axis":{"x":"independent","y":"independent"}}},
  {"width":298,"height":197,"title":{"text":" ","offset":19},"data":{"name":"b2"},
   "layer":[
    {"transform":[{"fold":["a","b","c","d"],"as":["s","y"]}],"mark":{"type":"line","strokeWidth":1.3},
     "encoding":{
      "x":{"field":"x","type":"quantitative","scale":{"domain":[0,400000],"nice":false},"axis":{"values":[0,100000,200000,300000,400000],"format":"d","title":"tMC"}},
      "y":{"field":"y","type":"quantitative","scale":{"domain":[0,1200],"nice":false},"axis":{"values":[0,200,400,600,800,1000,1200],"format":"d","title":"Energy","titlePadding":9}},
      "color":{"field":"s","type":"nominal","scale":{"domain":["a","b","c","d"],"range":["#f21c1c","#22e022","#1c1ce6","#f01cf0"]},"legend":{"title":null,"legendX":257,"legendY":3,"labelExpr":"datum.label=='a'?'Pa=0.1':datum.label=='b'?'Pa=0.3':datum.label=='c'?'Pa=0.5':'Pa=0.7'"}}}},
    {"transform":[{"fold":["a","b","c","d"],"as":["s","y"]}],"mark":{"type":"point","opacity":0},
     "encoding":{
      "x":{"field":"x","type":"quantitative","scale":{"domain":[0,400000],"nice":false},"axis":{"orient":"top","labels":false,"title":null,"values":[0,100000,200000,300000,400000]}},
      "y":{"field":"y","type":"quantitative","scale":{"domain":[0,1200],"nice":false},"axis":{"orient":"right","labels":false,"title":null,"values":[0,200,400,600,800,1000,1200]}}}}
   ],
   "resolve":{"axis":{"x":"independent","y":"independent"}}},
  {"width":296,"height":197,"title":{"text":" ","offset":19},"data":{"name":"b3"},
   "layer":[
    {"transform":[{"fold":["a","b","c","d"],"as":["s","y"]}],"mark":{"type":"line","strokeWidth":1.4},
     "encoding":{
      "x":{"field":"x","type":"quantitative","scale":{"domain":[0,400000],"nice":false},"axis":{"values":[0,100000,200000,300000,400000],"format":"d","title":"tMC"}},
      "y":{"field":"y","type":"quantitative","scale":{"domain":[0,14],"nice":false},"axis":{"values":[0,2,4,6,8,10,12,14],"format":"d","title":"MSD","titlePadding":0,"titleY":88}},
      "color":{"field":"s","type":"nominal","scale":{"domain":["a","b","c","d"],"range":["#f21c1c","#22e022","#1c1ce6","#f01cf0"]},"legend":{"title":null,"legendX":255,"legendY":3,"labelExpr":"datum.label=='a'?'Pa=0.1':datum.label=='b'?'Pa=0.3':datum.label=='c'?'Pa=0.5':'Pa=0.7'"}}}},
    {"transform":[{"fold":["a","b","c","d"],"as":["s","y"]}],"mark":{"type":"point","opacity":0},
     "encoding":{
      "x":{"field":"x","type":"quantitative","scale":{"domain":[0,400000],"nice":false},"axis":{"orient":"top","labels":false,"title":null,"values":[0,100000,200000,300000,400000]}},
      "y":{"field":"y","type":"quantitative","scale":{"domain":[0,14],"nice":false},"axis":{"orient":"right","labels":false,"title":null,"values":[0,2,4,6,8,10,12,14]}}}},
    {"data":{"values":[{"x":285000,"y1":4.0,"y2":2.3}]},"mark":{"type":"rule","color":"#ee2a5a","strokeWidth":2},
     "encoding":{"x":{"field":"x","type":"quantitative","axis":null},"y":{"field":"y1","type":"quantitative","axis":null},"y2":{"field":"y2"}}},
    {"data":{"values":[{"x":285000,"y":2.0}]},"mark":{"type":"point","shape":"triangle-down","filled":true,"color":"#ee2a5a","opacity":1,"size":70},
     "encoding":{"x":{"field":"x","type":"quantitative","axis":null},"y":{"field":"y","type":"quantitative","axis":null}}}
   ],
   "resolve":{"axis":{"x":"independent","y":"independent"}}}
 ]
}
],
"spacing":33,
"resolve":{"scale":{"color":"independent"},"legend":{"color":"independent"}}
}
